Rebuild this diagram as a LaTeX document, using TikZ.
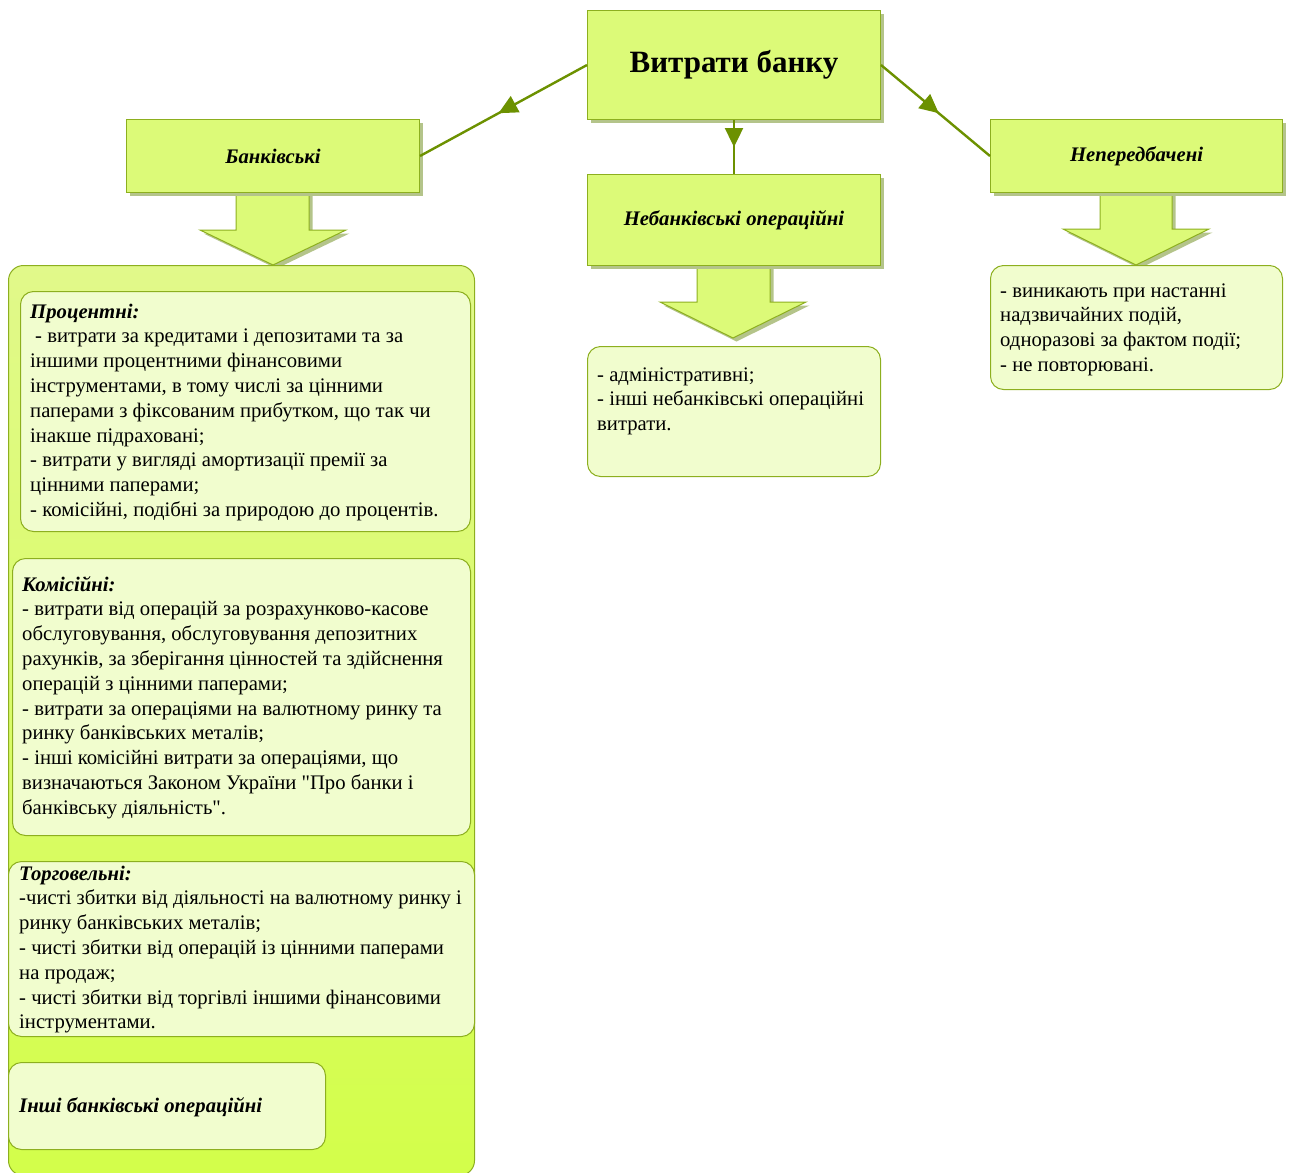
\documentclass[tikz,border=0pt]{standalone}
\usepackage{fontspec}
\setmainfont{Liberation Serif}[Ligatures=TeXOff]
\usetikzlibrary{arrows.meta,decorations.markings,shadows}
\definecolor{boxfill}{HTML}{DCFA78}
\definecolor{boxline}{HTML}{8DAF1F}
\definecolor{shadowc}{HTML}{B4C48A}
\definecolor{innerfill}{HTML}{F1FDCE}
\definecolor{contop}{HTML}{E1F98A}
\definecolor{conbot}{HTML}{D3FE4A}
\definecolor{connc}{HTML}{6C9100}
\newcommand{\bodyfont}{\fontsize{20.7}{24.8}\selectfont}
\newcommand{\headfont}{\fontsize{20.7}{24.8}\selectfont\bfseries\itshape}
\newcommand{\txtbox}[2]{\parbox[t]{#1}{\raggedright\bodyfont #2}}
\begin{document}
\begin{tikzpicture}[x=1pt,y=-1pt,
  sh/.style={drop shadow={shadow xshift=3.5pt,shadow yshift=-3.5pt,fill=shadowc,opacity=1}},
  sqbox/.style={draw=boxline,line width=1pt,fill=boxfill,sh,anchor=north west,inner sep=0pt,align=center},
  barrow/.style={draw=boxline,line width=1pt,fill=boxfill,sh},
  rbox/.style={draw=boxline,line width=1pt,fill=innerfill,rounded corners=13pt,anchor=north west,inner sep=0pt},
  container/.style={draw=boxline,line width=1pt,top color=contop,bottom color=conbot,rounded corners=15pt,anchor=north west,inner sep=0pt},
  txt/.style={anchor=base west,inner sep=0pt},
  lbl/.style={font=\headfont},
  connector/.style={draw=connc,line width=2.4pt,postaction={decorate},
    decoration={markings,mark=at position #1 with {\arrow{Triangle[length=19pt,width=18pt]}}}},
  connector/.default=0.54
]
\useasboundingbox (0,0) rectangle (1291,1173);
% block arrows
\draw[barrow] (236,185) -- (236,230) -- (200,230) -- (273,265) -- (346,230) -- (309,230) -- (309,185) -- cycle;
\draw[barrow] (697,255) -- (697,302) -- (660,302) -- (733,338) -- (806,302) -- (770,302) -- (770,255) -- cycle;
\draw[barrow] (1100,185) -- (1100,229) -- (1063,229) -- (1136,265) -- (1209,229) -- (1172,229) -- (1172,185) -- cycle;
% header boxes
\node[sqbox,minimum width=293pt,minimum height=109pt,font=\fontsize{31}{35}\selectfont\bfseries] (title) at (587,10) {\raisebox{-2.5pt}{Витрати банку}};
\node[sqbox,minimum width=293pt,minimum height=73pt,lbl] (bank) at (126,119) {Банківські};
\node[sqbox,minimum width=293pt,minimum height=91pt,lbl] (nonbank) at (587,174) {Небанківські операційні};
\node[sqbox,minimum width=292pt,minimum height=73pt,lbl] (unexp) at (990,119) {Непередбачені};
% connectors
\draw[connector=0.53] (title.west) -- (bank.east);
\draw[connector=0.50] (title.south) -- (nonbank.north);
\draw[connector=0.53] (title.east) -- (unexp.west);
% container
\node[container,minimum width=466pt,minimum height=910pt] (cont) at (8,265) {};
% inner boxes
\node[rbox,minimum width=450pt,minimum height=240pt] (proc) at (20,291) {};
\node[rbox,minimum width=458pt,minimum height=277pt] (kom) at (12,558) {};
\node[rbox,minimum width=466pt,minimum height=175pt] (torg) at (8,861) {};
\node[rbox,minimum width=317pt,minimum height=87pt] (inshi) at (8,1062) {};
\node[rbox,minimum width=293pt,minimum height=130pt] (nbc) at (587,346) {};
\node[rbox,minimum width=292pt,minimum height=124pt] (unc) at (990,265) {};
% texts
\node[txt] (proct) at (30,318) {\txtbox{440pt}{{\headfont Процентні:}\\
\hspace*{5pt}- витрати за кредитами і депозитами та за\\
іншими процентними фінансовими\\
інструментами, в тому числі за цінними\\
паперами з фіксованим прибутком, що так чи\\
інакше підраховані;\\
- витрати у вигляді амортизації премії за\\
цінними паперами;\\
- комісійні, подібні за природою до процентів.}};
\node[txt] (komt) at (22,591) {\txtbox{448pt}{{\headfont Комісійні:}\\
- витрати від операцій за розрахунково-касове\\
обслуговування, обслуговування депозитних\\
рахунків, за зберігання цінностей та здійснення\\
операцій з цінними паперами;\\
- витрати за операціями на валютному ринку та\\
ринку банківських металів;\\
- інші комісійні витрати за операціями, що\\
визначаються Законом України "Про банки і\\
банківську діяльність".}};
\node[txt] (torgt) at (19,880) {\txtbox{455pt}{{\headfont Торговельні:}\\
-чисті збитки від діяльності на валютному ринку і\\
ринку банківських металів;\\
- чисті збитки від операцій із цінними паперами\\
на продаж;\\
- чисті збитки від торгівлі іншими фінансовими\\
інструментами.}};
\node[txt,font=\headfont] (inshit) at (19,1112) {Інші банківські операційні};
\node[txt] (nbt) at (597,381) {\txtbox{280pt}{- адміністративні;\\
- інші небанківські операційні\\
витрати.}};
\node[txt] (unt) at (1000,297) {\txtbox{285pt}{- виникають при настанні\\
надзвичайних подій,\\
одноразові за фактом події;\\
- не повторювані.}};
\end{tikzpicture}
\end{document}
